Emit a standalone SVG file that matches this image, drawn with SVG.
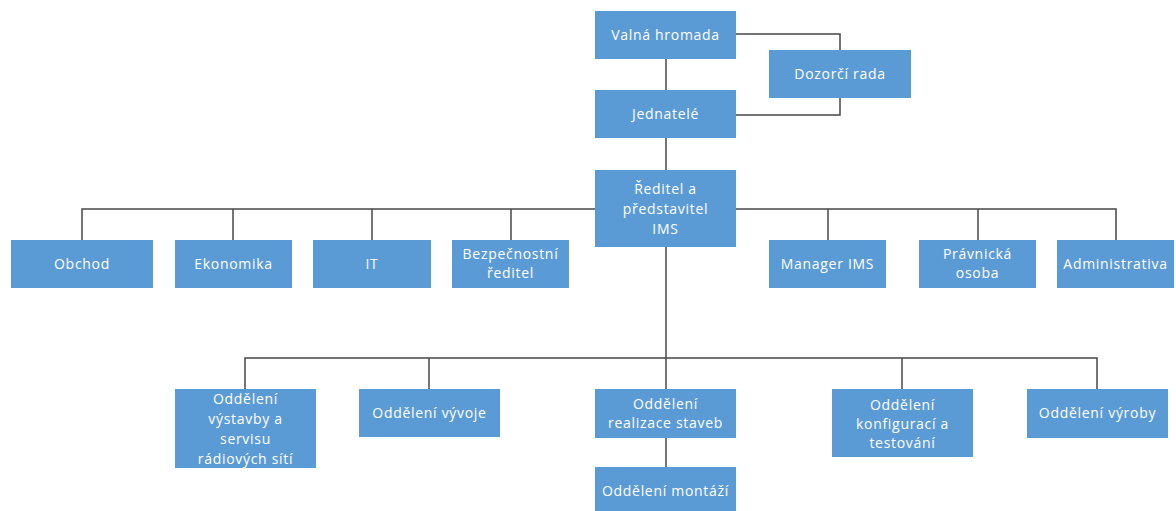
<svg xmlns="http://www.w3.org/2000/svg" width="1176" height="511" viewBox="0 0 1176 511">
<style>
.n rect{fill:#5B9BD5;}
.n text{fill:#FFFFFF;font-family:"Open Sans","Liberation Sans",sans-serif;font-size:14px;letter-spacing:0.7px;text-anchor:middle;}
.c path{fill:none;stroke:#474747;stroke-width:1.5;}
</style>
<rect width="1176" height="511" fill="#FFFFFF"/>
<g id="connectors" class="c">
<path d="M666,59 V90"/>
<path d="M736,34 H840 V50"/>
<path d="M840,98 V115 H736"/>
<path d="M666,138 V170"/>
<path d="M82,240 V209 H1116 V240"/>
<path d="M233,209 V240"/>
<path d="M372,209 V240"/>
<path d="M511,209 V240"/>
<path d="M828,209 V240"/>
<path d="M978,209 V240"/>
<path d="M666,247 V389"/>
<path d="M245,389 V358 H1097 V389"/>
<path d="M429,358 V389"/>
<path d="M902,358 V389"/>
<path d="M666,438 V467"/>
</g>
<g id="valna-hromada" class="n"><rect x="595" y="11" width="141" height="48"/><text x="665.5" y="40">Valná hromada</text></g>
<g id="dozorci-rada" class="n"><rect x="769" y="50" width="142" height="48"/><text x="840" y="79">Dozorčí rada</text></g>
<g id="jednatele" class="n"><rect x="595" y="90" width="141" height="48"/><text x="665.5" y="119">Jednatelé</text></g>
<g id="reditel" class="n"><rect x="595" y="170" width="141" height="77"/><text x="665.5" y="194">Ředitel a</text><text x="665.5" y="214">představitel</text><text x="665.5" y="234">IMS</text></g>
<g id="obchod" class="n"><rect x="11" y="240" width="142" height="48"/><text x="82" y="269">Obchod</text></g>
<g id="ekonomika" class="n"><rect x="175" y="240" width="117" height="48"/><text x="233.5" y="269">Ekonomika</text></g>
<g id="it" class="n"><rect x="313" y="240" width="118" height="48"/><text x="372" y="269">IT</text></g>
<g id="bezpecnostni-reditel" class="n"><rect x="452" y="240" width="117" height="48"/><text x="510.5" y="259">Bezpečnostní</text><text x="510.5" y="278">ředitel</text></g>
<g id="manager-ims" class="n"><rect x="769" y="240" width="117" height="48"/><text x="827.5" y="269">Manager IMS</text></g>
<g id="pravnicka-osoba" class="n"><rect x="919" y="240" width="117" height="48"/><text x="977.5" y="259">Právnická</text><text x="977.5" y="278">osoba</text></g>
<g id="administrativa" class="n"><rect x="1057" y="240" width="117" height="48"/><text x="1115.5" y="269">Administrativa</text></g>
<g id="oddeleni-vystavby" class="n"><rect x="175" y="389" width="141" height="79"/><text x="245.5" y="404">Oddělení</text><text x="245.5" y="424">výstavby a</text><text x="245.5" y="444">servisu</text><text x="245.5" y="464">rádiových sítí</text></g>
<g id="oddeleni-vyvoje" class="n"><rect x="359" y="389" width="141" height="48"/><text x="429.5" y="418">Oddělení vývoje</text></g>
<g id="oddeleni-realizace" class="n"><rect x="595" y="389" width="141" height="49"/><text x="665.5" y="409">Oddělení</text><text x="665.5" y="428">realizace staveb</text></g>
<g id="oddeleni-konfiguraci" class="n"><rect x="832" y="389" width="141" height="68"/><text x="902.5" y="410">Oddělení</text><text x="902.5" y="429">konfigurací a</text><text x="902.5" y="448">testování</text></g>
<g id="oddeleni-vyroby" class="n"><rect x="1027" y="389" width="141" height="49"/><text x="1097.5" y="418">Oddělení výroby</text></g>
<g id="oddeleni-montazi" class="n"><rect x="595" y="467" width="141" height="48"/><text x="665.5" y="496">Oddělení montáží</text></g>
</svg>
